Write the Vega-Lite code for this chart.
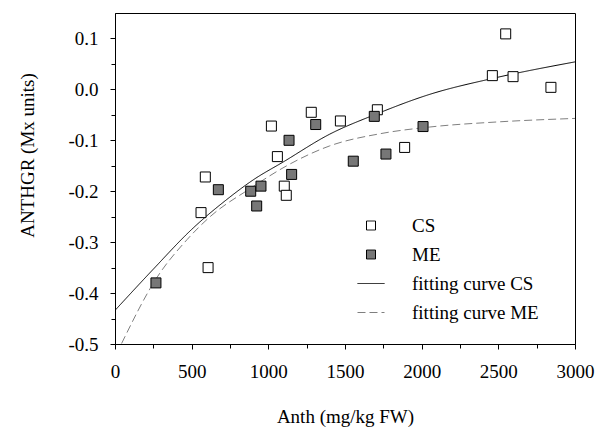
{
  "$schema": "https://vega.github.io/schema/vega-lite/v6.json",
  "autosize": "none",
  "width": 460,
  "height": 331,
  "padding": {"left": 115, "top": 13, "right": 24, "bottom": 87},
  "background": "white",
  "config": {
    "font": "Liberation Serif",
    "view": {"stroke": "black", "strokeWidth": 1},
    "style": {
      "guide-label": {"font": "Liberation Serif", "fontSize": 19, "fill": "black"},
      "guide-title": {"font": "Liberation Serif", "fontSize": 19, "fill": "black", "fontWeight": "normal"}
    },
    "axis": {
      "grid": false,
      "domainColor": "black",
      "tickColor": "black",
      "labelColor": "black",
      "titleColor": "black",
      "labelFont": "Liberation Serif",
      "titleFont": "Liberation Serif",
      "labelFontSize": 19,
      "titleFontSize": 19,
      "titleFontWeight": "normal"
    },
    "legend": {
      "labelFont": "Liberation Serif",
      "labelFontSize": 19,
      "labelColor": "black"
    }
  },
  "datasets": {
    "pts": [
      {"anth": 2548, "gr": 0.109, "series": "CS"},
      {"anth": 2461, "gr": 0.027, "series": "CS"},
      {"anth": 2596, "gr": 0.025, "series": "CS"},
      {"anth": 2843, "gr": 0.004, "series": "CS"},
      {"anth": 1280, "gr": -0.045, "series": "CS"},
      {"anth": 1711, "gr": -0.040, "series": "CS"},
      {"anth": 1020, "gr": -0.072, "series": "CS"},
      {"anth": 1470, "gr": -0.062, "series": "CS"},
      {"anth": 1059, "gr": -0.132, "series": "CS"},
      {"anth": 1889, "gr": -0.114, "series": "CS"},
      {"anth": 589, "gr": -0.172, "series": "CS"},
      {"anth": 1104, "gr": -0.190, "series": "CS"},
      {"anth": 1117, "gr": -0.208, "series": "CS"},
      {"anth": 561, "gr": -0.242, "series": "CS"},
      {"anth": 607, "gr": -0.350, "series": "CS"},
      {"anth": 1691, "gr": -0.053, "series": "ME"},
      {"anth": 1309, "gr": -0.069, "series": "ME"},
      {"anth": 1135, "gr": -0.100, "series": "ME"},
      {"anth": 2009, "gr": -0.073, "series": "ME"},
      {"anth": 1554, "gr": -0.141, "series": "ME"},
      {"anth": 1767, "gr": -0.127, "series": "ME"},
      {"anth": 1152, "gr": -0.167, "series": "ME"},
      {"anth": 674, "gr": -0.197, "series": "ME"},
      {"anth": 885, "gr": -0.200, "series": "ME"},
      {"anth": 952, "gr": -0.190, "series": "ME"},
      {"anth": 924, "gr": -0.229, "series": "ME"},
      {"anth": 267, "gr": -0.380, "series": "ME"}
    ],
    "curves": [
      {"anth": 0, "gr": -0.434, "series": "fitting curve CS"},
      {"anth": 250, "gr": -0.353, "series": "fitting curve CS"},
      {"anth": 500, "gr": -0.275, "series": "fitting curve CS"},
      {"anth": 730, "gr": -0.216, "series": "fitting curve CS"},
      {"anth": 900, "gr": -0.178, "series": "fitting curve CS"},
      {"anth": 1100, "gr": -0.142, "series": "fitting curve CS"},
      {"anth": 1400, "gr": -0.088, "series": "fitting curve CS"},
      {"anth": 1700, "gr": -0.049, "series": "fitting curve CS"},
      {"anth": 2050, "gr": -0.010, "series": "fitting curve CS"},
      {"anth": 2470, "gr": 0.022, "series": "fitting curve CS"},
      {"anth": 3000, "gr": 0.054, "series": "fitting curve CS"},
      {"anth": 43, "gr": -0.499, "series": "fitting curve ME"},
      {"anth": 270, "gr": -0.371, "series": "fitting curve ME"},
      {"anth": 470, "gr": -0.295, "series": "fitting curve ME"},
      {"anth": 620, "gr": -0.250, "series": "fitting curve ME"},
      {"anth": 880, "gr": -0.195, "series": "fitting curve ME"},
      {"anth": 1120, "gr": -0.150, "series": "fitting curve ME"},
      {"anth": 1400, "gr": -0.111, "series": "fitting curve ME"},
      {"anth": 1730, "gr": -0.087, "series": "fitting curve ME"},
      {"anth": 2050, "gr": -0.074, "series": "fitting curve ME"},
      {"anth": 2490, "gr": -0.064, "series": "fitting curve ME"},
      {"anth": 3000, "gr": -0.057, "series": "fitting curve ME"}
    ]
  },
  "encoding": {
    "x": {
      "field": "anth", "type": "quantitative",
      "scale": {"domain": [0, 3000], "nice": false, "zero": false},
      "axis": {
        "title": "Anth (mg/kg FW)",
        "values": [0, 250, 500, 750, 1000, 1250, 1500, 1750, 2000, 2250, 2500, 2750, 3000],
        "format": "d",
        "labelExpr": "datum.value % 500 === 0 ? datum.label : ''",
        "tickSize": {"condition": {"test": "datum.value % 500 === 0", "value": 5}, "value": 4},
        "labelPadding": 13,
        "titlePadding": 26,
        "labelFlush": false
      }
    },
    "y": {
      "field": "gr", "type": "quantitative",
      "scale": {"domain": [-0.5, 0.15], "nice": false, "zero": false},
      "axis": {
        "title": "ANTHGR (Mx units)",
        "values": [-0.5, -0.45, -0.4, -0.35, -0.3, -0.25, -0.2, -0.15, -0.1, -0.05, 0, 0.05, 0.1],
        "labelExpr": "abs(datum.value * 10 - round(datum.value * 10)) < 0.01 ? (datum.value < -0.001 ? '-' : '') + format(abs(datum.value), '.1f') : ''",
        "tickSize": {"condition": {"test": "abs(datum.value * 10 - round(datum.value * 10)) < 0.01", "value": 5}, "value": 4},
        "labelPadding": 12,
        "labelFlush": false,
        "titleAngle": -90,
        "titleX": -88,
        "titleY": 142,
        "titleAlign": "center",
        "titleBaseline": "middle"
      }
    }
  },
  "layer": [
    {
      "data": {"name": "curves"},
      "mark": {"type": "line", "strokeWidth": 1, "interpolate": "monotone", "clip": true},
      "encoding": {
        "detail": {"field": "series"},
        "stroke": {
          "field": "series", "type": "nominal",
          "scale": {"domain": ["CS", "ME", "fitting curve CS", "fitting curve ME"], "range": ["black", "black", "black", "#7f7f7f"]},
          "legend": {
            "title": null,
            "orient": "none",
            "legendX": 246.5,
            "legendY": 203,
            "padding": 0,
            "labelOffset": 31.5,
            "symbolSize": 81,
            "symbolStrokeWidth": 1,
            "rowPadding": 9,
            "symbolOpacity": 1,
            "labelFont": "Liberation Serif",
            "labelFontSize": 19
          }
        },
        "strokeDash": {
          "field": "series", "type": "nominal",
          "scale": {"domain": ["CS", "ME", "fitting curve CS", "fitting curve ME"], "range": [[1, 0], [1, 0], [1, 0], [8, 4]]},
          "legend": {"title": null}
        }
      }
    },
    {
      "data": {"name": "pts"},
      "mark": {"type": "point", "size": 100, "strokeWidth": 1, "opacity": 1, "fillOpacity": 1},
      "encoding": {
        "shape": {
          "field": "series", "type": "nominal",
          "scale": {"domain": ["CS", "ME", "fitting curve CS", "fitting curve ME"], "range": ["square", "square", "M-3,0H3", "M-3,0H3"]},
          "legend": {"title": null}
        },
        "fill": {
          "field": "series", "type": "nominal",
          "scale": {"domain": ["CS", "ME", "fitting curve CS", "fitting curve ME"], "range": ["white", "#777777", "transparent", "transparent"]},
          "legend": {"title": null}
        },
        "stroke": {"field": "series", "type": "nominal"}
      }
    }
  ]
}
